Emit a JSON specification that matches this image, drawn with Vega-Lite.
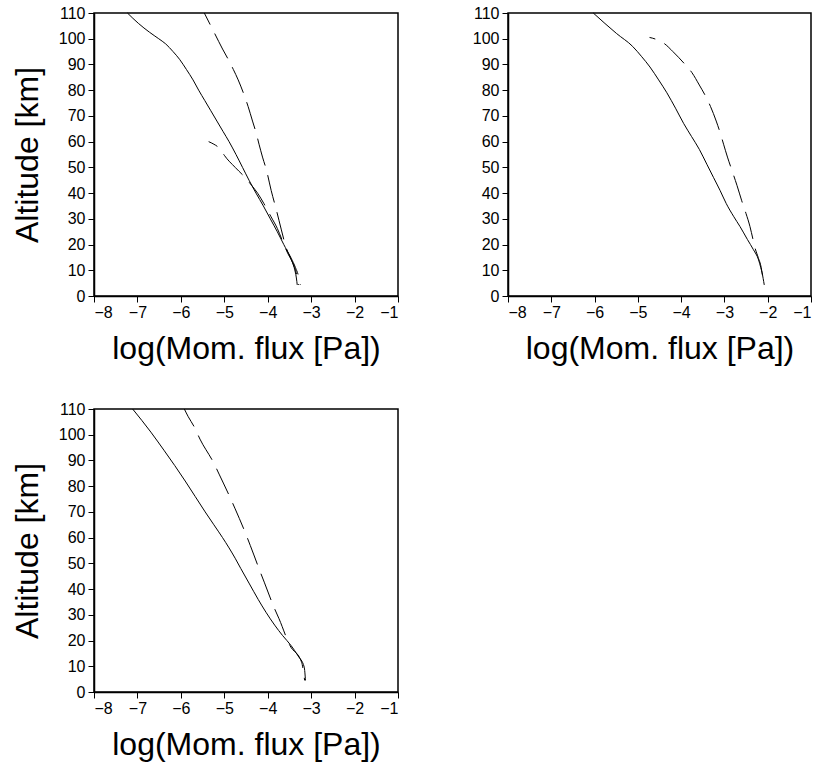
{
  "$schema": "https://vega.github.io/schema/vega-lite/v6.json",
  "background": "white",
  "padding": {"left": 10, "top": 4, "right": 5, "bottom": 5},
  "config": {
    "font": "Liberation Sans",
    "view": {"stroke": "black", "strokeWidth": 1.5},
    "axis": {
      "grid": false,
      "domainColor": "black",
      "domainWidth": 1.5,
      "tickColor": "black",
      "tickWidth": 1,
      "tickSize": 6,
      "labelColor": "black",
      "labelFontSize": 16,
      "labelFont": "Liberation Sans",
      "titleColor": "black",
      "titleFont": "Liberation Sans",
      "titleFontSize": 32,
      "titleFontWeight": "normal"
    },
    "axisX": {"labelPadding": 2, "titlePadding": 13},
    "axisY": {"labelPadding": 3, "titlePadding": 14},
    "line": {"color": "black", "strokeWidth": 1}
  },
  "datasets": {
    "p1": [
      {"s": "solid", "alt": 110, "flux": -7.23},
      {"s": "solid", "alt": 106, "flux": -6.98},
      {"s": "solid", "alt": 102.5, "flux": -6.72},
      {"s": "solid", "alt": 100, "flux": -6.51},
      {"s": "solid", "alt": 98, "flux": -6.35},
      {"s": "solid", "alt": 95, "flux": -6.18},
      {"s": "solid", "alt": 92, "flux": -6.03},
      {"s": "solid", "alt": 88, "flux": -5.87},
      {"s": "solid", "alt": 84, "flux": -5.72},
      {"s": "solid", "alt": 80, "flux": -5.59},
      {"s": "solid", "alt": 76, "flux": -5.45},
      {"s": "solid", "alt": 72, "flux": -5.31},
      {"s": "solid", "alt": 68, "flux": -5.17},
      {"s": "solid", "alt": 64, "flux": -5.03},
      {"s": "solid", "alt": 60, "flux": -4.89},
      {"s": "solid", "alt": 55, "flux": -4.73},
      {"s": "solid", "alt": 50, "flux": -4.58},
      {"s": "solid", "alt": 45, "flux": -4.43},
      {"s": "solid", "alt": 40, "flux": -4.27},
      {"s": "solid", "alt": 35, "flux": -4.10},
      {"s": "solid", "alt": 30, "flux": -3.94},
      {"s": "solid", "alt": 25, "flux": -3.78},
      {"s": "solid", "alt": 20, "flux": -3.63},
      {"s": "solid", "alt": 15, "flux": -3.48},
      {"s": "solid", "alt": 11, "flux": -3.39},
      {"s": "solid", "alt": 7, "flux": -3.34},
      {"s": "solid", "alt": 4.3, "flux": -3.32},
      {"s": "a", "alt": 110, "flux": -5.46},
      {"s": "a", "alt": 102, "flux": -5.22},
      {"s": "a", "alt": 96, "flux": -5.04},
      {"s": "a", "alt": 92, "flux": -4.91},
      {"s": "a", "alt": 88, "flux": -4.79},
      {"s": "a", "alt": 84, "flux": -4.68},
      {"s": "a", "alt": 78, "flux": -4.54},
      {"s": "a", "alt": 73.6, "flux": -4.45},
      {"s": "a", "alt": 68, "flux": -4.35},
      {"s": "a", "alt": 63, "flux": -4.26},
      {"s": "a", "alt": 59, "flux": -4.20},
      {"s": "a", "alt": 54, "flux": -4.12},
      {"s": "a", "alt": 49, "flux": -4.03},
      {"s": "a", "alt": 41, "flux": -3.92},
      {"s": "a", "alt": 33.4, "flux": -3.80},
      {"s": "a", "alt": 26, "flux": -3.69},
      {"s": "a", "alt": 18.5, "flux": -3.57},
      {"s": "a", "alt": 14.7, "flux": -3.46},
      {"s": "a", "alt": 11, "flux": -3.36},
      {"s": "a", "alt": 7, "flux": -3.28},
      {"s": "a", "alt": 4.3, "flux": -3.25},
      {"s": "b", "alt": 60, "flux": -5.36},
      {"s": "b", "alt": 59, "flux": -5.24},
      {"s": "b", "alt": 58, "flux": -5.15},
      {"s": "b", "alt": 56.5, "flux": -5.07},
      {"s": "b", "alt": 54.7, "flux": -5.00},
      {"s": "b", "alt": 50, "flux": -4.75},
      {"s": "b", "alt": 46.4, "flux": -4.54},
      {"s": "b", "alt": 43, "flux": -4.37},
      {"s": "b", "alt": 39.9, "flux": -4.23},
      {"s": "b", "alt": 36, "flux": -4.09},
      {"s": "b", "alt": 31, "flux": -3.93},
      {"s": "b", "alt": 26.3, "flux": -3.78},
      {"s": "b", "alt": 21, "flux": -3.65},
      {"s": "b", "alt": 17, "flux": -3.55},
      {"s": "b", "alt": 13, "flux": -3.43},
      {"s": "b", "alt": 8, "flux": -3.33},
      {"s": "b", "alt": 4.3, "flux": -3.29}
    ],
    "p2": [
      {"s": "solid", "alt": 110, "flux": -6.03},
      {"s": "solid", "alt": 102, "flux": -5.49},
      {"s": "solid", "alt": 97, "flux": -5.12},
      {"s": "solid", "alt": 93, "flux": -4.91},
      {"s": "solid", "alt": 89, "flux": -4.72},
      {"s": "solid", "alt": 84, "flux": -4.52},
      {"s": "solid", "alt": 79, "flux": -4.33},
      {"s": "solid", "alt": 73, "flux": -4.13},
      {"s": "solid", "alt": 67, "flux": -3.94},
      {"s": "solid", "alt": 62, "flux": -3.76},
      {"s": "solid", "alt": 57, "flux": -3.58},
      {"s": "solid", "alt": 51, "flux": -3.40},
      {"s": "solid", "alt": 46, "flux": -3.25},
      {"s": "solid", "alt": 41, "flux": -3.10},
      {"s": "solid", "alt": 36, "flux": -2.96},
      {"s": "solid", "alt": 31, "flux": -2.79},
      {"s": "solid", "alt": 27, "flux": -2.64},
      {"s": "solid", "alt": 22, "flux": -2.47},
      {"s": "solid", "alt": 18, "flux": -2.33},
      {"s": "solid", "alt": 14, "flux": -2.21},
      {"s": "solid", "alt": 11, "flux": -2.16},
      {"s": "solid", "alt": 9, "flux": -2.13},
      {"s": "solid", "alt": 4.3, "flux": -2.08},
      {"s": "a", "alt": 100.5, "flux": -4.73},
      {"s": "a", "alt": 99.9, "flux": -4.60},
      {"s": "a", "alt": 98, "flux": -4.38},
      {"s": "a", "alt": 95, "flux": -4.19},
      {"s": "a", "alt": 90.4, "flux": -3.93},
      {"s": "a", "alt": 86.8, "flux": -3.75},
      {"s": "a", "alt": 82, "flux": -3.58},
      {"s": "a", "alt": 77.5, "flux": -3.43},
      {"s": "a", "alt": 73.6, "flux": -3.32},
      {"s": "a", "alt": 68, "flux": -3.19},
      {"s": "a", "alt": 63, "flux": -3.09},
      {"s": "a", "alt": 59, "flux": -3.02},
      {"s": "a", "alt": 54, "flux": -2.93},
      {"s": "a", "alt": 49, "flux": -2.83},
      {"s": "a", "alt": 43, "flux": -2.71},
      {"s": "a", "alt": 37, "flux": -2.60},
      {"s": "a", "alt": 32, "flux": -2.50},
      {"s": "a", "alt": 27, "flux": -2.41},
      {"s": "a", "alt": 22, "flux": -2.34},
      {"s": "a", "alt": 18.5, "flux": -2.29},
      {"s": "a", "alt": 15, "flux": -2.22},
      {"s": "a", "alt": 11, "flux": -2.15},
      {"s": "a", "alt": 9, "flux": -2.13},
      {"s": "a", "alt": 4.3, "flux": -2.08}
    ],
    "p3": [
      {"s": "solid", "alt": 110, "flux": -7.11},
      {"s": "solid", "alt": 101, "flux": -6.69},
      {"s": "solid", "alt": 94, "flux": -6.39},
      {"s": "solid", "alt": 88, "flux": -6.14},
      {"s": "solid", "alt": 82, "flux": -5.90},
      {"s": "solid", "alt": 76, "flux": -5.67},
      {"s": "solid", "alt": 70, "flux": -5.44},
      {"s": "solid", "alt": 65, "flux": -5.24},
      {"s": "solid", "alt": 60, "flux": -5.04},
      {"s": "solid", "alt": 56, "flux": -4.89},
      {"s": "solid", "alt": 52, "flux": -4.75},
      {"s": "solid", "alt": 48, "flux": -4.62},
      {"s": "solid", "alt": 42, "flux": -4.42},
      {"s": "solid", "alt": 36, "flux": -4.22},
      {"s": "solid", "alt": 31, "flux": -4.04},
      {"s": "solid", "alt": 26, "flux": -3.84},
      {"s": "solid", "alt": 22, "flux": -3.66},
      {"s": "solid", "alt": 18, "flux": -3.46},
      {"s": "solid", "alt": 14, "flux": -3.30},
      {"s": "solid", "alt": 9.7, "flux": -3.16},
      {"s": "solid", "alt": 4.5, "flux": -3.13},
      {"s": "a", "alt": 110, "flux": -5.92},
      {"s": "a", "alt": 107, "flux": -5.83},
      {"s": "a", "alt": 103, "flux": -5.69},
      {"s": "a", "alt": 98.3, "flux": -5.56},
      {"s": "a", "alt": 88.6, "flux": -5.23},
      {"s": "a", "alt": 84.7, "flux": -5.12},
      {"s": "a", "alt": 75, "flux": -4.85},
      {"s": "a", "alt": 71.2, "flux": -4.75},
      {"s": "a", "alt": 60.8, "flux": -4.49},
      {"s": "a", "alt": 56.9, "flux": -4.40},
      {"s": "a", "alt": 46.6, "flux": -4.17},
      {"s": "a", "alt": 42.7, "flux": -4.08},
      {"s": "a", "alt": 32.3, "flux": -3.84},
      {"s": "a", "alt": 28.5, "flux": -3.74},
      {"s": "a", "alt": 18.1, "flux": -3.49},
      {"s": "a", "alt": 11.6, "flux": -3.22},
      {"s": "a", "alt": 4.5, "flux": -3.15}
    ]
  },
  "vconcat": [
    {
      "hconcat": [
        {
          "width": 304, "height": 283,
          "data": {"name": "p1"},
          "encoding": {
            "x": {"field": "flux", "type": "quantitative", "scale": {"domain": [-8, -1], "nice": false, "zero": false}, "axis": {"values": [-8, -7, -6, -5, -4, -3, -2, -1], "format": "d", "title": "log(Mom. flux [Pa])"}},
            "y": {"field": "alt", "type": "quantitative", "scale": {"domain": [0, 110], "nice": false}, "axis": {"values": [0, 10, 20, 30, 40, 50, 60, 70, 80, 90, 100, 110], "format": "d", "title": "Altitude [km]"}},
            "order": {"field": "alt", "type": "quantitative", "sort": "descending"}
          },
          "layer": [
            {"transform": [{"filter": "datum.s === 'solid'"}], "mark": {"type": "line", "color": "black", "strokeWidth": 1, "interpolate": "monotone"}},
            {"transform": [{"filter": "datum.s === 'a'"}], "mark": {"type": "line", "color": "black", "strokeWidth": 1, "interpolate": "monotone", "strokeDash": [28, 10], "strokeDashOffset": 15}},
            {"transform": [{"filter": "datum.s === 'b'"}], "mark": {"type": "line", "color": "black", "strokeWidth": 1, "interpolate": "monotone", "strokeDash": [28, 10], "strokeDashOffset": 18}}
          ]
        },
        {
          "width": 303, "height": 283,
          "data": {"name": "p2"},
          "encoding": {
            "x": {"field": "flux", "type": "quantitative", "scale": {"domain": [-8, -1], "nice": false, "zero": false}, "axis": {"values": [-8, -7, -6, -5, -4, -3, -2, -1], "format": "d", "title": "log(Mom. flux [Pa])"}},
            "y": {"field": "alt", "type": "quantitative", "scale": {"domain": [0, 110], "nice": false}, "axis": {"values": [0, 10, 20, 30, 40, 50, 60, 70, 80, 90, 100, 110], "format": "d", "title": null}},
            "order": {"field": "alt", "type": "quantitative", "sort": "descending"}
          },
          "layer": [
            {"transform": [{"filter": "datum.s === 'solid'"}], "mark": {"type": "line", "color": "black", "strokeWidth": 1, "interpolate": "monotone"}},
            {"transform": [{"filter": "datum.s === 'a'"}], "mark": {"type": "line", "color": "black", "strokeWidth": 1, "interpolate": "monotone", "strokeDash": [28, 10], "strokeDashOffset": 22}}
          ]
        }
      ],
      "spacing": 71
    },
    {
      "width": 304, "height": 283,
      "data": {"name": "p3"},
      "encoding": {
        "x": {"field": "flux", "type": "quantitative", "scale": {"domain": [-8, -1], "nice": false, "zero": false}, "axis": {"values": [-8, -7, -6, -5, -4, -3, -2, -1], "format": "d", "title": "log(Mom. flux [Pa])"}},
        "y": {"field": "alt", "type": "quantitative", "scale": {"domain": [0, 110], "nice": false}, "axis": {"values": [0, 10, 20, 30, 40, 50, 60, 70, 80, 90, 100, 110], "format": "d", "title": "Altitude [km]"}},
        "order": {"field": "alt", "type": "quantitative", "sort": "descending"}
      },
      "layer": [
        {"transform": [{"filter": "datum.s === 'solid'"}], "mark": {"type": "line", "color": "black", "strokeWidth": 1, "interpolate": "monotone"}},
        {"transform": [{"filter": "datum.s === 'a'"}], "mark": {"type": "line", "color": "black", "strokeWidth": 1, "interpolate": "monotone", "strokeDash": [28, 10], "strokeDashOffset": 8}}
      ]
    }
  ],
  "spacing": 35
}
